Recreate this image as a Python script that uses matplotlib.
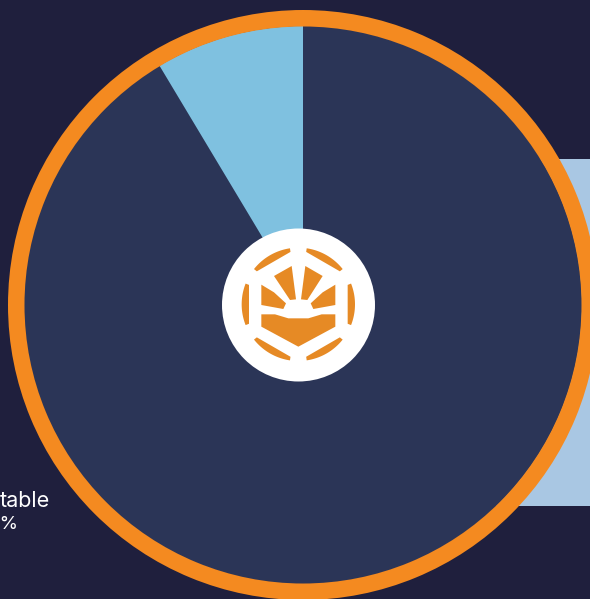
import numpy as np
import matplotlib
matplotlib.use('Agg')
import matplotlib.pyplot as plt
from matplotlib.patches import Circle, Polygon, Rectangle, Wedge

# pie shares, starting at 12 o'clock and going clockwise
shares = [91.4, 8.6]
share_colors = ['#2B3557', '#7FC1E0']

label_name = 'table'
label_value = '6%'

BG = '#1F1F3D'
RING = '#F48A20'
BACK_PANEL = '#A9C7E3'
LOGO = '#E68A25'

W, H = 590, 599
fig = plt.figure(figsize=(W / 100, H / 100), dpi=100, facecolor=BG)
ax = fig.add_axes([0, 0, 1, 1])

# pixel style coordinates, y measured from the top
cx, cy = 303, H - 305

ax.add_patch(Rectangle((400, H - 506), 200, 347, color=BACK_PANEL, lw=0, zorder=1))

ax.pie(shares, colors=share_colors, center=(cx, cy), radius=279,
       startangle=90, counterclock=False, wedgeprops={'linewidth': 0, 'zorder': 2})
ax.add_patch(Wedge((cx, cy), 295, 0, 360, width=16.5, color=RING, lw=0, zorder=3))

ax.set_xlim(0, W)
ax.set_ylim(0, H)
ax.set_aspect('equal')
ax.axis('off')

# white badge in the middle
ax.add_patch(Circle((298.5, H - 305), 76.5, color='white', lw=0, zorder=4))


def zoomed(points):
    # logo outlines are sketched on a 3x grid around (200, 210)
    return [(200 + x / 3, H - (210 + y / 3)) for x, y in points]


def logo_shape(points):
    ax.add_patch(Polygon(zoomed(points), closed=True, color=LOGO, lw=0, zorder=5))


# six rim pieces of the logo
lx, ly = 295, 283
for mid in [60, 120, 180, 240, 300, 0]:
    t = np.radians(np.linspace(mid - 21.5, mid + 21.5, 30))
    outer = np.column_stack([lx + 170 * np.cos(t), ly - 170 * np.sin(t)])
    inner_r = 148 / np.cos(np.radians(21.5))
    inner = np.array([[lx + inner_r * np.cos(t[-1]), ly - inner_r * np.sin(t[-1])],
                      [lx + inner_r * np.cos(t[0]), ly - inner_r * np.sin(t[0])]])
    logo_shape(np.vstack([outer, inner]))

# sun rays
logo_shape([(222, 198), (275, 168), (288, 268), (270, 270)])
logo_shape([(316, 168), (368, 198), (322, 270), (303, 268)])
logo_shape([(184, 224), (222, 247), (258, 280), (250, 297), (184, 285)])
logo_shape([(406, 224), (368, 247), (332, 280), (340, 297), (406, 285)])

# open book
logo_shape([(184, 313), (225, 313), (265, 325), (325, 325), (365, 313), (406, 313),
            (406, 350), (295, 410), (184, 350)])

ax.text(49.5, H - 501, label_name, color='white', fontsize=15.5, family='Inter',
        ha='right', va='center', zorder=1)
ax.text(18.5, H - 524.5, label_value, color='white', fontsize=13.5, family='Inter',
        ha='right', va='center', zorder=1)

fig.savefig('out.png', dpi=100, facecolor=BG)
